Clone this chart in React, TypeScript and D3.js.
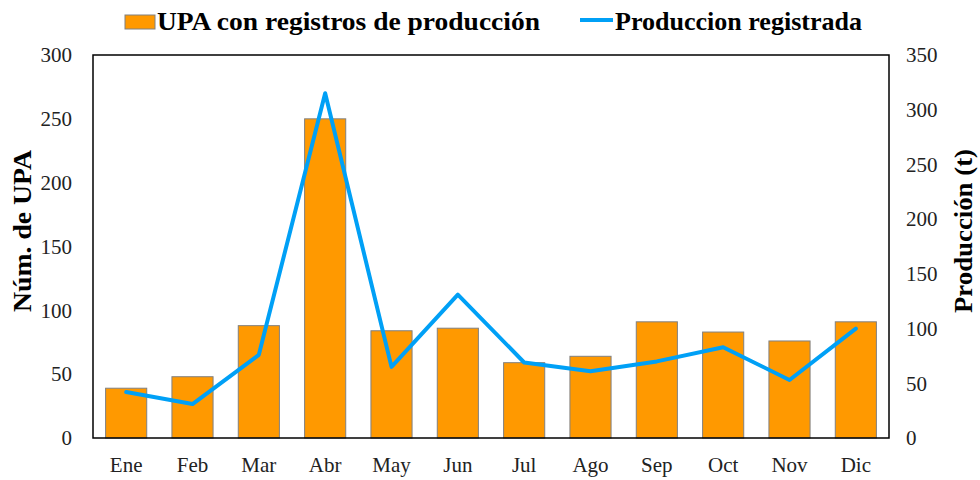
import { useEffect, useRef } from "react";
import * as d3 from "d3";

// months, UPA counts (left axis) and production in t (right axis)
const MONTHS = ["Ene", "Feb", "Mar", "Abr", "May", "Jun", "Jul", "Ago", "Sep", "Oct", "Nov", "Dic"];
const UPA = [39, 48, 88, 250, 84, 86, 59, 64, 91, 83, 76, 91];
const PRODUCCION = [42, 31, 76, 315, 65, 131, 69, 61, 70, 83, 53, 100];
const LEFT_TICKS = [0, 50, 100, 150, 200, 250, 300];
const RIGHT_TICKS = [0, 50, 100, 150, 200, 250, 300, 350];

const BAR_COLOR = "#ff9900";
const LINE_COLOR = "#00a0f6";
const FONT = "'Liberation Serif', 'DejaVu Serif', serif";

export default function App() {
  const svgRef = useRef<SVGSVGElement | null>(null);

  useEffect(() => {
    const width = 980;
    const height = 480;
    const margin = { top: 55, right: 91, bottom: 42, left: 93 };
    const innerWidth = width - margin.left - margin.right;
    const innerHeight = height - margin.top - margin.bottom;

    const svg = d3.select(svgRef.current);
    svg.selectAll("*").remove();
    svg.attr("width", width).attr("height", height);

    const x = d3.scaleBand().domain(MONTHS).range([0, innerWidth]).paddingInner(0.38).paddingOuter(0.19);
    const yLeft = d3.scaleLinear().domain([0, 300]).range([innerHeight, 0]);
    const yRight = d3.scaleLinear().domain([0, 350]).range([innerHeight, 0]);

    const g = svg.append("g").attr("transform", `translate(${margin.left},${margin.top})`);

    // bars
    g.selectAll(".bar")
      .data(UPA)
      .join("rect")
      .attr("class", "bar")
      .attr("x", (_, i) => x(MONTHS[i])!)
      .attr("y", (d) => yLeft(d))
      .attr("width", x.bandwidth())
      .attr("height", (d) => innerHeight - yLeft(d))
      .attr("fill", BAR_COLOR)
      .attr("stroke", "#808080")
      .attr("stroke-width", 1);

    // line
    const line = d3
      .line<number>()
      .x((_, i) => x(MONTHS[i])! + x.bandwidth() / 2)
      .y((d) => yRight(d));

    g.append("path")
      .datum(PRODUCCION)
      .attr("fill", "none")
      .attr("stroke", LINE_COLOR)
      .attr("stroke-width", 4)
      .attr("stroke-linejoin", "round")
      .attr("stroke-linecap", "round")
      .attr("d", line);

    // plot frame
    g.append("rect")
      .attr("x", 0)
      .attr("y", 0)
      .attr("width", innerWidth)
      .attr("height", innerHeight)
      .attr("fill", "none")
      .attr("stroke", "#000")
      .attr("stroke-width", 1.5);

    const styleTicks = (axis: d3.Selection<SVGGElement, unknown, null, undefined>) => {
      axis.select(".domain").remove();
      axis.selectAll("text").attr("font-family", FONT).attr("font-size", 21).attr("fill", "#222");
    };

    styleTicks(
      g.append("g").call(d3.axisLeft(yLeft).tickValues(LEFT_TICKS).tickSize(0).tickPadding(21))
    );
    styleTicks(
      g.append("g")
        .attr("transform", `translate(${innerWidth},0)`)
        .call(d3.axisRight(yRight).tickValues(RIGHT_TICKS).tickSize(0).tickPadding(17))
    );
    styleTicks(
      g.append("g")
        .attr("transform", `translate(0,${innerHeight})`)
        .call(d3.axisBottom(x).tickSize(0).tickPadding(19))
    );

    // axis titles
    svg.append("text")
      .attr("transform", `translate(31,231) rotate(-90)`)
      .attr("text-anchor", "middle")
      .attr("font-family", FONT)
      .attr("font-weight", "bold")
      .attr("font-size", 26)
      .attr("textLength", 162)
      .attr("lengthAdjust", "spacingAndGlyphs")
      .text("Núm. de UPA");

    svg.append("text")
      .attr("transform", `translate(972,231) rotate(-90)`)
      .attr("text-anchor", "middle")
      .attr("font-family", FONT)
      .attr("font-weight", "bold")
      .attr("font-size", 25)
      .attr("textLength", 164)
      .attr("lengthAdjust", "spacingAndGlyphs")
      .text("Producción (t)");

    // legend
    const legend = svg.append("g");
    legend.append("rect")
      .attr("x", 125).attr("y", 15).attr("width", 30).attr("height", 14)
      .attr("fill", BAR_COLOR).attr("stroke", "#808080");
    legend.append("text")
      .attr("x", 157).attr("y", 30)
      .attr("font-family", FONT).attr("font-weight", "bold").attr("font-size", 25)
      .attr("textLength", 383)
      .attr("lengthAdjust", "spacingAndGlyphs")
      .text("UPA con registros de producción");
    legend.append("line")
      .attr("x1", 580).attr("x2", 613).attr("y1", 20).attr("y2", 20)
      .attr("stroke", LINE_COLOR).attr("stroke-width", 4);
    legend.append("text")
      .attr("x", 615).attr("y", 30)
      .attr("font-family", FONT).attr("font-weight", "bold").attr("font-size", 25)
      .attr("textLength", 247)
      .attr("lengthAdjust", "spacingAndGlyphs")
      .text("Produccion registrada");
  }, []);

  return <svg ref={svgRef} style={{ position: "absolute", left: 0, top: 0 }} />;
}
